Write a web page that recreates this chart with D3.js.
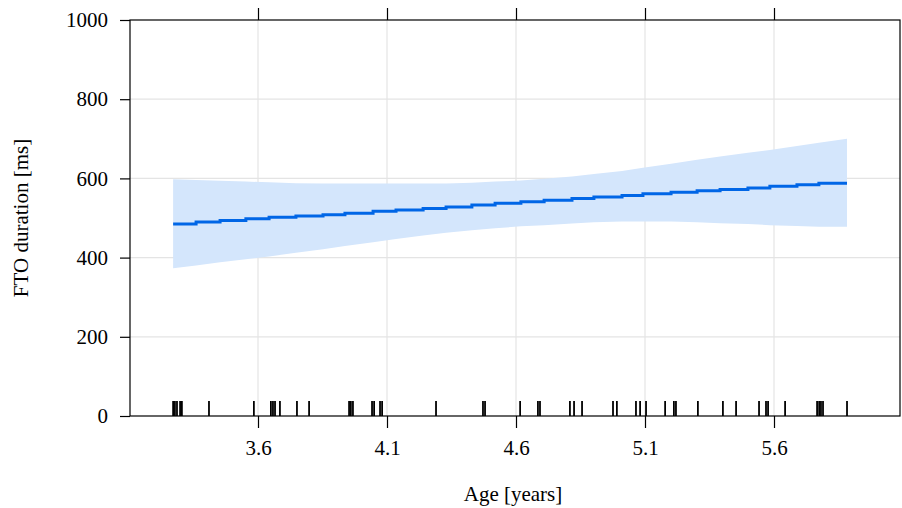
<!DOCTYPE html>
<html>
<head>
<meta charset="utf-8">
<script src="https://cdn.jsdelivr.net/npm/d3@7"></script>
<style>
  html, body { margin: 0; padding: 0; background: #fff; }
  text { font-family: "Liberation Serif", "Times New Roman", serif; fill: #000; }
</style>
</head>
<body>
<svg id="chart" width="902" height="508"></svg>
<script>
// ---- data ----
const xTicks = [3.6, 4.1, 4.6, 5.1, 5.6];
const yTicks = [0, 200, 400, 600, 800, 1000];
const xLabel = "Age [years]";
const yLabel = "FTO duration [ms]";

// evaluation grid (age) for the fitted curve and its confidence band
const ages = [3.271, 3.360, 3.453, 3.553, 3.643, 3.747, 3.852, 3.937, 4.046, 4.135,
              4.240, 4.329, 4.429, 4.519, 4.619, 4.709, 4.817, 4.902, 5.011, 5.092,
              5.201, 5.302, 5.391, 5.499, 5.584, 5.689, 5.774, 5.883];
const fit   = [485, 490, 494, 498, 502, 505, 508, 512, 517, 520,
               524, 528, 533, 537, 541, 545, 549, 553, 557, 561,
               565, 569, 572, 576, 580, 584, 588, 588];
const upper = [598, 596, 594, 592, 590, 588, 587, 587, 587, 587,
               587, 587, 589, 592, 595, 599, 605, 611, 619, 627,
               637, 647, 655, 665, 672, 682, 690, 700];
const lower = [373, 380, 388, 396, 403, 412, 421, 429, 439, 447,
               456, 463, 469, 474, 479, 482, 486, 489, 491, 491,
               491, 489, 487, 485, 482, 480, 478, 478];

// observed ages (rug)
const rugAges = [3.271, 3.278, 3.286, 3.298, 3.305, 3.410, 3.584, 3.650, 3.658, 3.666,
                 3.685, 3.751, 3.798, 3.953, 3.960, 3.968, 4.042, 4.050, 4.073, 4.081,
                 4.290, 4.472, 4.480, 4.616, 4.685, 4.693, 4.809, 4.825, 4.856, 4.976,
                 4.991, 5.065, 5.081, 5.104, 5.178, 5.212, 5.220, 5.305, 5.402, 5.453,
                 5.542, 5.569, 5.577, 5.643, 5.767, 5.775, 5.782, 5.790, 5.883];

// ---- layout ----
const L = 130, R = 900, T = 20, B = 416;
const svg = d3.select("#chart");

const x = d3.scaleLinear()
  .domain([3.6 - 128 / 258, 3.6 + 642 / 258])
  .range([L, R]);
const y = d3.scaleLinear().domain([0, 1000]).range([B, T]);

// grid
const grid = svg.append("g").attr("stroke", "#e4e4e4").attr("stroke-width", 1.2);
grid.selectAll("line.v").data(xTicks).join("line")
  .attr("x1", d => x(d)).attr("x2", d => x(d)).attr("y1", T).attr("y2", B);
grid.selectAll("line.h").data(yTicks.filter(v => v > 0 && v < 1000)).join("line")
  .attr("x1", L).attr("x2", R).attr("y1", d => y(d)).attr("y2", d => y(d));

// band
const bandData = ages.map((a, i) => ({a, lo: lower[i], hi: upper[i]}));
svg.append("path")
  .datum(bandData)
  .attr("fill", "#d4e6fc")
  .attr("stroke", "none")
  .attr("d", d3.area().x(d => x(d.a)).y0(d => y(d.lo)).y1(d => y(d.hi)).curve(d3.curveLinear));

// fitted step line
svg.append("path")
  .datum(ages.map((a, i) => ({a, v: fit[i]})))
  .attr("fill", "none")
  .attr("stroke", "#0066e6")
  .attr("stroke-width", 3)
  .attr("d", d3.line().x(d => x(d.a)).y(d => y(d.v)).curve(d3.curveStepAfter));

// rug
svg.append("g").selectAll("line").data(rugAges).join("line")
  .attr("x1", d => x(d)).attr("x2", d => x(d))
  .attr("y1", B - 15).attr("y2", B)
  .attr("stroke", "#000").attr("stroke-width", 1.8);

// axes
const fs = "21px";
const yAxis = svg.append("g").attr("transform", `translate(${L},0)`)
  .call(d3.axisLeft(y).tickValues(yTicks).tickSize(10).tickPadding(12).tickFormat(d3.format("d")));
const xAxisB = svg.append("g").attr("transform", `translate(0,${B})`)
  .call(d3.axisBottom(x).tickValues(xTicks).tickSize(12).tickPadding(12).tickFormat(d3.format(".1f")));
const xAxisT = svg.append("g").attr("transform", `translate(0,${T})`)
  .call(d3.axisTop(x).tickValues(xTicks).tickSize(12).tickFormat(""));
[yAxis, xAxisB, xAxisT].forEach(g => {
  g.select(".domain").remove();
  g.selectAll("line").attr("stroke", "#000").attr("stroke-width", 1.2);
  g.selectAll("text").style("font-family", "'Liberation Serif', serif").style("font-size", fs).attr("fill", "#000");
});

// frame
svg.append("rect").attr("x", L).attr("y", T).attr("width", R - L).attr("height", B - T)
  .attr("fill", "none").attr("stroke", "#000").attr("stroke-width", 1.2);

// titles
svg.append("text").attr("x", (L + R) / 2 - 2).attr("y", 501)
  .attr("text-anchor", "middle").style("font-size", fs).text(xLabel);
svg.append("text").attr("transform", `translate(28,${(T + B) / 2}) rotate(-90)`)
  .attr("text-anchor", "middle").style("font-size", fs).text(yLabel);
</script>
</body>
</html>
